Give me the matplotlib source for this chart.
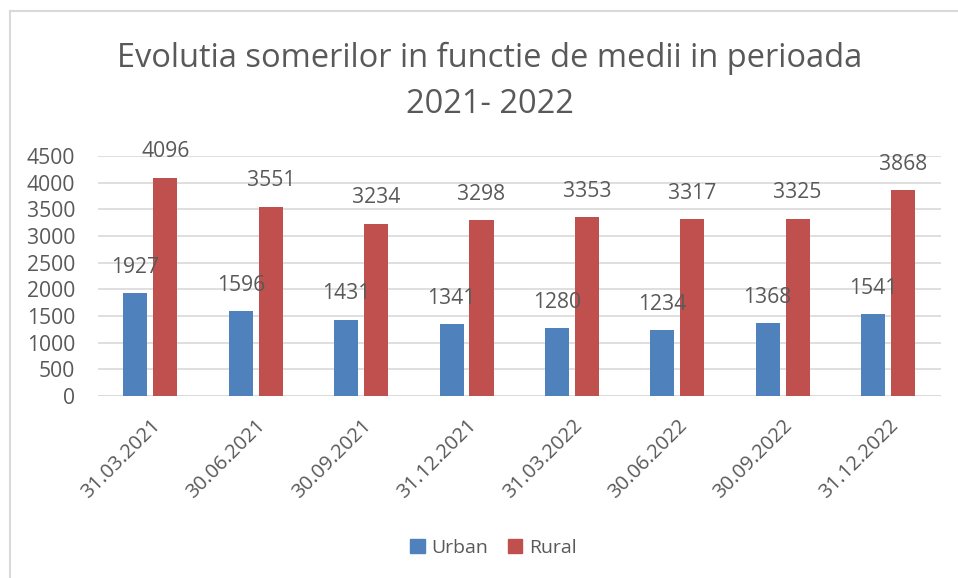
import numpy as np
import matplotlib.pyplot as plt
from matplotlib.lines import Line2D
from matplotlib.patches import Patch

plt.rcParams['font.family'] = ['Open Sans', 'DejaVu Sans']

dates = ['31.03.2021', '30.06.2021', '30.09.2021', '31.12.2021',
         '31.03.2022', '30.06.2022', '30.09.2022', '31.12.2022']
urban = [1927, 1596, 1431, 1341, 1280, 1234, 1368, 1541]
rural = [4096, 3551, 3234, 3298, 3353, 3317, 3325, 3868]

blue = '#4F81BD'
red = '#C0504D'
txt = '#595959'
grid = '#D9D9D9'

fig = plt.figure(figsize=(9.58, 5.78), dpi=100)
ax = fig.add_axes([0.102, 0.315, 0.880, 0.415])

x = np.arange(len(dates))
w = 0.228
off = 0.142
b1 = ax.bar(x - off, urban, w, color=blue)
b2 = ax.bar(x + off, rural, w, color=red)

for bars, vals in ((b1, urban), (b2, rural)):
    for b, v in zip(bars, vals):
        ax.annotate(str(v), (b.get_x() + b.get_width() / 2, v),
                    xytext=(0, 18.5), textcoords='offset points',
                    ha='center', va='center', fontsize=15.2, color=txt)

ax.set_xlim(-0.5, len(dates) - 0.5)
ax.set_ylim(0, 4500)
ax.set_yticks(range(0, 4501, 500))
ax.yaxis.grid(True, color=grid, linewidth=1.2)
ax.set_axisbelow(True)
for s in ax.spines.values():
    s.set_visible(False)
ax.axhline(0, color=grid, linewidth=1.2, zorder=0.5)
ax.tick_params(axis='both', length=0, labelsize=15.2, labelcolor=txt)
ax.tick_params(axis='y', pad=16)
ax.set_xticks(x)
ax.set_xticklabels(dates, rotation=45, ha='right', va='top',
                   rotation_mode='anchor', fontsize=14.5)
ax.tick_params(axis='x', pad=14)

fig.text(0.511, 0.859, 'Evolutia somerilor in functie de medii in perioada\n2021- 2022',
         ha='center', va='center', fontsize=23.5, color=txt, linespacing=1.5)

handles = [Patch(color=blue, label='Urban'), Patch(color=red, label='Rural')]
fig.legend(handles=handles, loc='center', bbox_to_anchor=(0.515, 0.052),
           ncol=2, frameon=False, fontsize=14, labelcolor=txt,
           handlelength=0.75, handleheight=0.75, handletextpad=0.35,
           columnspacing=1.0)

fig.add_artist(Line2D([0.0105, 0.0105], [0, 0.981], color=grid, linewidth=1.5))
fig.add_artist(Line2D([0.0105, 1], [0.981, 0.981], color=grid, linewidth=1.5))

fig.savefig('out.png', dpi=100)
